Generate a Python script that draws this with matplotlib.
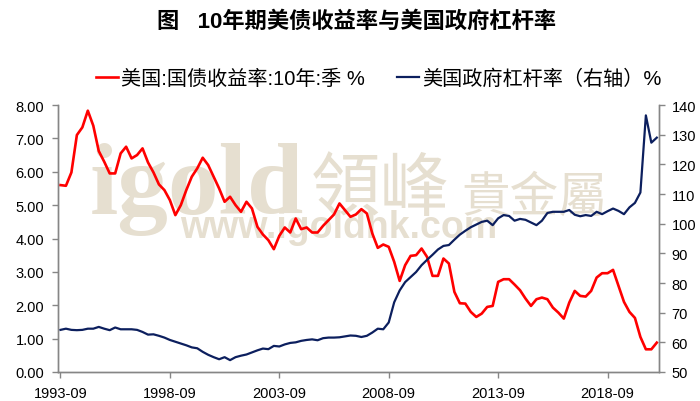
import matplotlib
matplotlib.use('Agg')
import matplotlib.pyplot as plt
from matplotlib.ticker import FormatStrFormatter

plt.rcParams['font.family'] = ['Liberation Sans', 'Noto Sans CJK SC']

# quarterly, 1993-09 .. 2020-12
yield_10y = [
    5.60, 5.58, 5.98, 7.10, 7.33, 7.83, 7.38, 6.62, 6.30, 5.95,
    5.95, 6.55, 6.75, 6.40, 6.50, 6.70, 6.28, 5.98, 5.62, 5.45,
    5.15, 4.70, 5.00, 5.45, 5.85, 6.10, 6.42, 6.20, 5.85, 5.50,
    5.10, 5.25, 5.00, 4.80, 5.10, 4.90, 4.35, 4.12, 3.95, 3.68,
    4.08, 4.33, 4.18, 4.60, 4.28, 4.33, 4.18, 4.18, 4.38, 4.55,
    4.72, 5.05, 4.85, 4.65, 4.72, 4.88, 4.75, 4.15, 3.72, 3.82,
    3.75, 3.30, 2.73, 3.20, 3.48, 3.50, 3.70, 3.45, 2.88, 2.88,
    3.40, 3.25, 2.40, 2.06, 2.05, 1.80, 1.65, 1.75, 1.95, 1.98,
    2.70, 2.78, 2.78, 2.62, 2.45, 2.20, 1.98, 2.18, 2.23, 2.18,
    1.93, 1.78, 1.60, 2.08, 2.43, 2.28, 2.26, 2.43, 2.83, 2.96,
    2.96, 3.06, 2.58, 2.10, 1.80, 1.62, 1.05, 0.68, 0.68, 0.88,
]
gov_leverage = [
    64.2, 64.6, 64.2, 64.1, 64.2, 64.6, 64.6, 65.2, 64.6, 64.1,
    65.0, 64.4, 64.4, 64.4, 64.2, 63.5, 62.6, 62.7, 62.2, 61.6,
    60.8, 60.2, 59.6, 59.0, 58.3, 58.0, 56.8, 55.8, 55.0, 54.3,
    55.0, 54.0, 55.0, 55.5, 55.9, 56.6, 57.3, 57.9, 57.7, 58.8,
    58.6, 59.3, 59.8, 60.0, 60.5, 60.8, 61.0, 60.7, 61.4, 61.6,
    61.6, 61.7, 62.0, 62.3, 62.2, 61.8, 62.2, 63.3, 64.6, 64.4,
    66.7, 73.5, 77.5, 80.3, 82.0, 83.7, 86.0, 87.8, 89.5, 91.3,
    92.5, 92.8, 94.6, 96.3, 97.6, 98.8, 99.7, 100.6, 101.0, 99.5,
    101.8, 102.9, 102.6, 101.0, 101.6, 101.3, 100.4, 99.5, 101.0, 103.6,
    104.0, 104.0, 104.0, 104.6, 103.0, 102.5, 102.9, 102.6, 104.0, 103.2,
    104.2, 105.1, 104.3, 103.2, 105.5, 107.0, 110.5, 136.5, 127.3, 129.0,
]
tick_labels = ['1993-09', '1998-09', '2003-09', '2008-09', '2013-09', '2018-09']
label_yield = '美国:国债收益率:10年:季 %'
label_lev = '美国政府杠杆率（右轴）%'
title = '图   10年期美债收益率与美国政府杠杆率'

W, H = 700, 402
grey = '#868686'
wm = '#e6dfd0'

fig = plt.figure(figsize=(W / 100, H / 100), dpi=100)
ax = fig.add_axes([58 / W, 1 - 373 / H, (659 - 58) / W, (373 - 106) / H])
ax2 = ax.twinx()
ax.patch.set_visible(False)

x = list(range(len(yield_10y)))
l1, = ax.plot(x, yield_10y, color='#ff0000', lw=1.9, label=label_yield)
l2, = ax2.plot(x, gov_leverage, color='#0c1f5e', lw=1.6, label=label_lev)

ax.set_xlim(-0.45, 109.4)
ax.set_ylim(0, 8)
ax2.set_ylim(50, 140)
ax.set_yticks(range(0, 9))
ax.yaxis.set_major_formatter(FormatStrFormatter('%.2f'))
ax2.set_yticks(range(50, 141, 10))
step = 20  # 5 years of quarters
ax.set_xticks([k * step for k in range(len(tick_labels))])
ax.set_xticklabels(tick_labels)

for a in (ax, ax2):
    a.spines['top'].set_visible(False)
    for s in ('left', 'right', 'bottom'):
        a.spines[s].set_color(grey)
        a.spines[s].set_linewidth(1.0)
    a.tick_params(direction='out', length=4, width=1, color=grey,
                  labelsize=10.5, labelcolor='#000000')
ax.tick_params(axis='y', pad=6)
ax2.tick_params(axis='y', pad=5)
ax.tick_params(axis='x', pad=6)

# watermark
fig.text(90 / W, 1 - 214 / H, 'igold', family='Liberation Serif', weight='bold',
         fontsize=73, color=wm, ha='left', va='baseline', zorder=-1)
fig.text(311 / W, 1 - 210 / H, '領峰', family='Noto Sans CJK TC',
         fontsize=50, color=wm, ha='left', va='baseline', zorder=-1)
fig.text(461 / W, 1 - 212 / H, '貴金屬', family='Noto Sans CJK TC',
         fontsize=35, color=wm, ha='left', va='baseline', zorder=-1)
fig.text(180 / W, 1 - 238 / H, 'www.igoldhk.com', family='Liberation Sans',
         weight='bold', fontsize=27, color=wm, ha='left', va='baseline', zorder=-1)

fig.text(357 / W, 1 - 22 / H, title, ha='center', va='center', fontsize=16,
         fontweight='bold', family=['Liberation Sans', 'Noto Sans CJK SC'])

ax.legend(handles=[l1, l2], loc='center left', bbox_to_anchor=(96 / W, 1 - 79 / H),
          bbox_transform=fig.transFigure, ncol=2, frameon=False, borderpad=0,
          borderaxespad=0, handlelength=1.1, handletextpad=0.15,
          columnspacing=1.6, fontsize=14.5)

fig.savefig('out.png', dpi=100)
